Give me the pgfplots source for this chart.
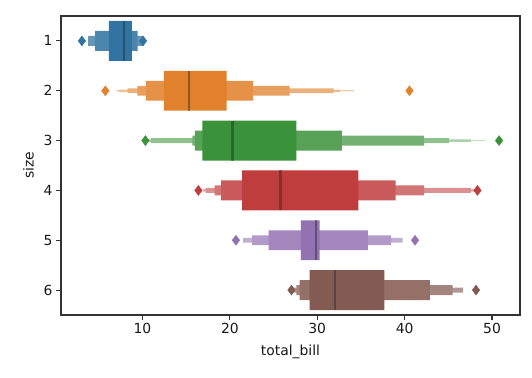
\documentclass[border=0pt]{standalone}
\usepackage{fontspec}
\setmainfont{DejaVu Sans}
\usepackage{pgfplots}
\pgfplotsset{compat=1.18}
\definecolor{cA}{HTML}{3274A1}
\definecolor{cB}{HTML}{E1812C}
\definecolor{cC}{HTML}{3A923A}
\definecolor{cD}{HTML}{C03D3E}
\definecolor{cE}{HTML}{9372B2}
\definecolor{cF}{HTML}{845B53}
\newcommand{\lvK}{8}
\newcommand{\lvcol}{cA}
% #1 size (y), #2 level (0 = innermost), #3 low, #4 high
\newcommand{\lvbox}[4]{%
  \pgfmathsetmacro{\hh}{0.4*0.5^#2}%
  \pgfmathsetmacro{\ya}{#1-\hh}%
  \pgfmathsetmacro{\yb}{#1+\hh}%
  \pgfmathtruncatemacro{\pc}{100-85*#2/(\lvK-1)}%
  \edef\temp{\noexpand\addplot[fill=\lvcol!\pc!white, draw=none, forget plot] coordinates {(#3,\ya) (#4,\ya) (#4,\yb) (#3,\yb) (#3,\ya)};}%
  \temp}
% #1 size, #2 median
\newcommand{\lvmed}[2]{%
  \pgfmathsetmacro{\ya}{#1-0.4}%
  \pgfmathsetmacro{\yb}{#1+0.4}%
  \edef\temp{\noexpand\addplot[black!85, draw opacity=0.45, line width=2.1pt, forget plot] coordinates {(#2,\ya) (#2,\yb)};}%
  \temp}
\begin{document}
\begin{tikzpicture}
\useasboundingbox (-61pt,-62pt) rectangle (471pt,315pt);
\begin{axis}[
  scale only axis, width=459pt, height=299pt,
  xmin=0.68, xmax=53.2, ymin=0.5, ymax=6.5, y dir=reverse,
  xtick={10,20,30,40,50}, ytick={1,2,3,4,5,6},
  xtick pos=bottom, ytick pos=left,
  tick align=outside, major tick length=4.9pt,
  every tick/.style={black!80, line width=1.1pt},
  axis line style={black!80, line width=1.1pt},
  /pgf/number format/assume math mode=true,
  tick label style={font=\fontsize{13.9pt}{16pt}\selectfont, text=black!90},
  label style={font=\fontsize{13.9pt}{16pt}\selectfont, text=black!90},
  xlabel={total\_bill}, ylabel={size},
  xlabel style={at={(axis description cs:0.5,0)}, anchor=base, yshift=-40pt},
  ylabel style={at={(axis description cs:-0.0597,0.5)}, anchor=base},
]
% size 1
\renewcommand{\lvK}{8}\renewcommand{\lvcol}{cA}
\lvbox{1}{2}{3.79}{10.07}
\lvbox{1}{1}{4.59}{9.46}
\lvbox{1}{0}{6.17}{8.79}
\lvmed{1}{7.92}
\addplot[only marks, mark=diamond*, mark size=5pt, color=cA, forget plot] coordinates {(3.07,1) (10.07,1)};
% size 2
\renewcommand{\lvK}{8}\renewcommand{\lvcol}{cB}
\lvbox{2}{5}{7.0}{34.26}
\lvbox{2}{4}{7.33}{32.62}
\lvbox{2}{3}{8.29}{31.86}
\lvbox{2}{2}{9.43}{26.84}
\lvbox{2}{1}{10.38}{22.66}
\lvbox{2}{0}{12.46}{19.62}
\lvmed{2}{15.3}
\addplot[only marks, mark=diamond*, mark size=5pt, color=cB, forget plot] coordinates {(5.75,2) (40.55,2)};
% size 3
\renewcommand{\lvK}{7}\renewcommand{\lvcol}{cC}
\lvbox{3}{5}{10.4}{49.2}
\lvbox{3}{4}{10.5}{47.57}
\lvbox{3}{3}{10.95}{45.06}
\lvbox{3}{2}{15.7}{42.24}
\lvbox{3}{1}{16.0}{32.82}
\lvbox{3}{0}{16.85}{27.6}
\lvmed{3}{20.3}
\addplot[only marks, mark=diamond*, mark size=5pt, color=cC, forget plot] coordinates {(10.34,3) (50.81,3)};
% size 4
\renewcommand{\lvK}{7}\renewcommand{\lvcol}{cD}
\lvbox{4}{4}{16.9}{48.0}
\lvbox{4}{3}{17.22}{47.57}
\lvbox{4}{2}{18.25}{42.24}
\lvbox{4}{1}{19.01}{38.98}
\lvbox{4}{0}{21.41}{34.71}
\lvmed{4}{25.8}
\addplot[only marks, mark=diamond*, mark size=5pt, color=cD, forget plot] coordinates {(16.4,4) (48.33,4)};
% size 5
\renewcommand{\lvK}{7}\renewcommand{\lvcol}{cE}
\lvbox{5}{3}{21.52}{39.77}
\lvbox{5}{2}{22.55}{38.44}
\lvbox{5}{1}{24.45}{35.8}
\lvbox{5}{0}{28.14}{30.26}
\lvmed{5}{29.85}
\addplot[only marks, mark=diamond*, mark size=5pt, color=cE, forget plot] coordinates {(20.69,5) (41.19,5)};
% size 6
\renewcommand{\lvK}{8}\renewcommand{\lvcol}{cF}
\lvbox{6}{3}{27.3}{46.7}
\lvbox{6}{2}{27.6}{45.48}
\lvbox{6}{1}{27.98}{42.89}
\lvbox{6}{0}{29.12}{37.68}
\lvmed{6}{32.05}
\addplot[only marks, mark=diamond*, mark size=5pt, color=cF, forget plot] coordinates {(27.05,6) (48.17,6)};
\end{axis}
\end{tikzpicture}
\end{document}
